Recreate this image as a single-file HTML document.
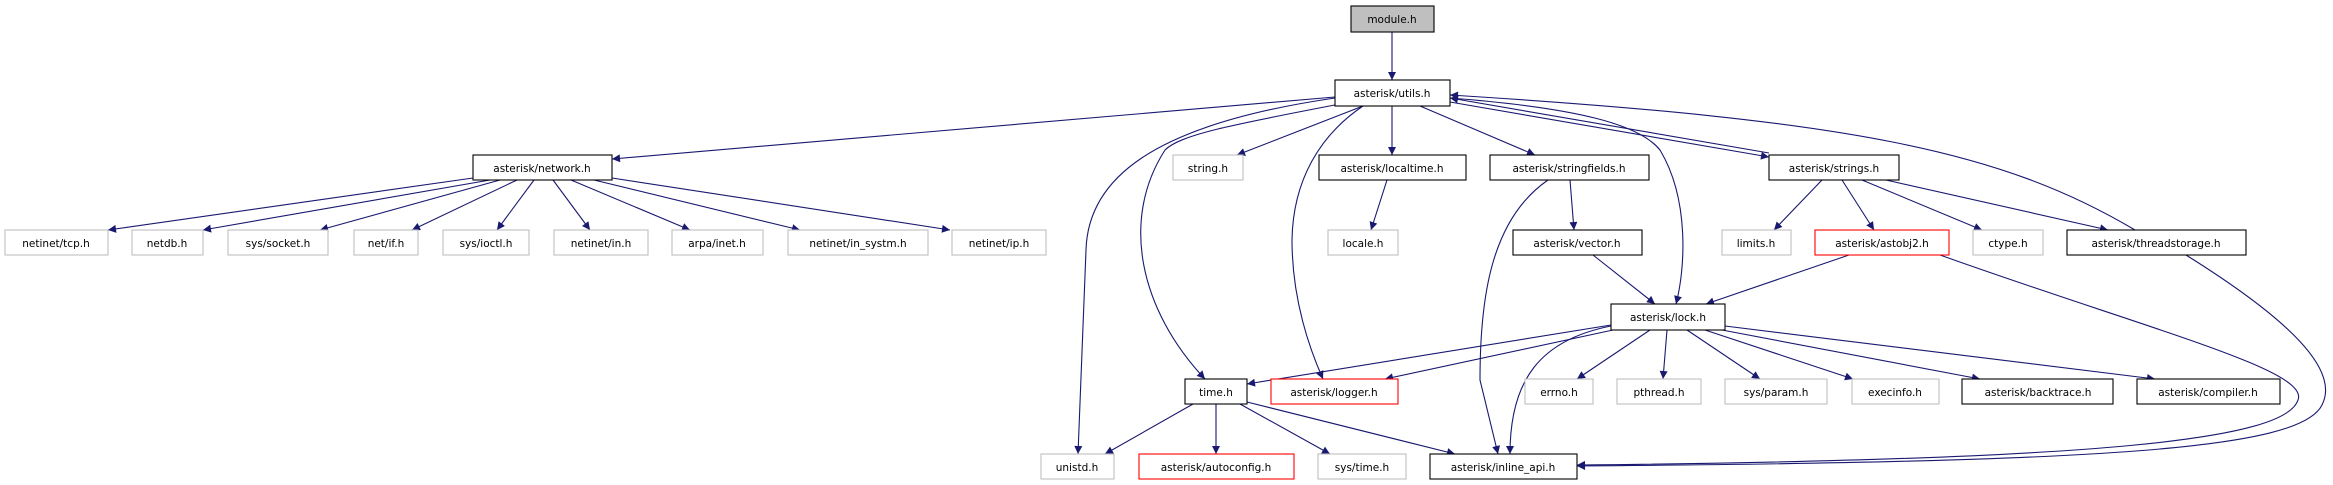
<!DOCTYPE html>
<html><head><meta charset="utf-8"><style>
html,body{margin:0;padding:0;background:#fff;}
svg{display:block;}
text{font-family:"DejaVu Sans","Liberation Sans",sans-serif;font-size:10.5px;fill:#000;text-anchor:middle;}
.e{fill:none;stroke:#191970;stroke-width:1.1;}
</style></head><body>
<svg width="2333" height="485" viewBox="0 0 2333 485" xmlns="http://www.w3.org/2000/svg">
<defs><marker id="a" viewBox="0 0 10 10" refX="10" refY="5" markerWidth="10" markerHeight="8" markerUnits="userSpaceOnUse" orient="auto"><path d="M0,0 L10,5 L0,10 z" fill="#191970"/></marker></defs>
<g class="e" marker-end="url(#a)">
<path d="M1392,32 L1392,80"/>
<path d="M1335,97 L612,159"/>
<path d="M473,178 L108,230"/>
<path d="M490,180 L203,230"/>
<path d="M500,180 L320,230"/>
<path d="M517,180 L412,230"/>
<path d="M534,180 L497,230"/>
<path d="M553,180 L590,230"/>
<path d="M571,180 L690,230"/>
<path d="M594,180 L800,230"/>
<path d="M612,178 L950,230"/>
<path d="M1363,106 L1237,155"/>
<path d="M1392,106 L1392,155"/>
<path d="M1420,106 L1535,155"/>
<path d="M1450,102 L1769,157"/>
<path d="M1769,153 L1450,98"/>
<path d="M1335,98 C1150,125 1088,180 1086,250 L1078,454"/>
<path d="M1340,104 C1230,125 1180,135 1165,150 C1120,220 1140,310 1205,379"/>
<path d="M1363,106 C1320,135 1293,180 1292,240 C1292,300 1310,350 1323,379"/>
<path d="M1450,98 C1580,108 1640,125 1660,150 C1690,200 1685,270 1676,304"/>
<path d="M2135,230 C2000,150 1850,120 1450,95"/>
<path d="M1387,180 L1371,230"/>
<path d="M1570,180 L1574,230"/>
<path d="M1548,180 C1490,220 1480,300 1480,380 L1498,454"/>
<path d="M1593,255 L1655,304"/>
<path d="M1822,180 L1774,230"/>
<path d="M1842,180 L1874,230"/>
<path d="M1862,180 L1982,230"/>
<path d="M1886,180 L2108,230"/>
<path d="M1849,255 L1706,304"/>
<path d="M1940,255 C2150,330 2310,370 2298,400 C2285,440 2100,460 1577,465"/>
<path d="M2186,255 C2290,320 2340,370 2322,405 C2300,450 2100,462 1577,466"/>
<path d="M1611,325 L1247,384"/>
<path d="M1613,330 L1385,379"/>
<path d="M1611,326 C1540,340 1510,380 1510,454"/>
<path d="M1650,330 L1577,379"/>
<path d="M1667,330 L1663,379"/>
<path d="M1687,330 L1760,379"/>
<path d="M1705,330 L1853,379"/>
<path d="M1722,330 L1980,379"/>
<path d="M1725,326 L2155,379"/>
<path d="M1193,404 L1105,454"/>
<path d="M1216,404 L1216,454"/>
<path d="M1240,404 L1330,454"/>
<path d="M1247,402 L1455,454"/>
</g>
<g stroke-width="1.1">
<rect x="1351" y="6" width="83" height="26" fill="#bfbfbf" stroke="#000"/><text x="1392" y="23">module.h</text>
<rect x="1335" y="80" width="115" height="26" fill="#fff" stroke="#000"/><text x="1392" y="97">asterisk/utils.h</text>
<rect x="473" y="155" width="139" height="25" fill="#fff" stroke="#000"/><text x="542" y="172">asterisk/network.h</text>
<rect x="1173" y="155" width="70" height="25" fill="#fff" stroke="#bfbfbf"/><text x="1208" y="172">string.h</text>
<rect x="1319" y="155" width="147" height="25" fill="#fff" stroke="#000"/><text x="1392" y="172">asterisk/localtime.h</text>
<rect x="1490" y="155" width="159" height="25" fill="#fff" stroke="#000"/><text x="1569" y="172">asterisk/stringfields.h</text>
<rect x="1769" y="155" width="130" height="25" fill="#fff" stroke="#000"/><text x="1834" y="172">asterisk/strings.h</text>
<rect x="5" y="230" width="103" height="25" fill="#fff" stroke="#bfbfbf"/><text x="56" y="247">netinet/tcp.h</text>
<rect x="132" y="230" width="71" height="25" fill="#fff" stroke="#bfbfbf"/><text x="167" y="247">netdb.h</text>
<rect x="228" y="230" width="100" height="25" fill="#fff" stroke="#bfbfbf"/><text x="278" y="247">sys/socket.h</text>
<rect x="354" y="230" width="64" height="25" fill="#fff" stroke="#bfbfbf"/><text x="386" y="247">net/if.h</text>
<rect x="443" y="230" width="86" height="25" fill="#fff" stroke="#bfbfbf"/><text x="486" y="247">sys/ioctl.h</text>
<rect x="554" y="230" width="94" height="25" fill="#fff" stroke="#bfbfbf"/><text x="601" y="247">netinet/in.h</text>
<rect x="672" y="230" width="91" height="25" fill="#fff" stroke="#bfbfbf"/><text x="717" y="247">arpa/inet.h</text>
<rect x="788" y="230" width="140" height="25" fill="#fff" stroke="#bfbfbf"/><text x="858" y="247">netinet/in_systm.h</text>
<rect x="952" y="230" width="94" height="25" fill="#fff" stroke="#bfbfbf"/><text x="999" y="247">netinet/ip.h</text>
<rect x="1328" y="230" width="70" height="25" fill="#fff" stroke="#bfbfbf"/><text x="1363" y="247">locale.h</text>
<rect x="1513" y="230" width="129" height="25" fill="#fff" stroke="#000"/><text x="1577" y="247">asterisk/vector.h</text>
<rect x="1722" y="230" width="69" height="25" fill="#fff" stroke="#bfbfbf"/><text x="1756" y="247">limits.h</text>
<rect x="1815" y="230" width="134" height="25" fill="#fff" stroke="#f00"/><text x="1882" y="247">asterisk/astobj2.h</text>
<rect x="1973" y="230" width="70" height="25" fill="#fff" stroke="#bfbfbf"/><text x="2008" y="247">ctype.h</text>
<rect x="2067" y="230" width="179" height="25" fill="#fff" stroke="#000"/><text x="2156" y="247">asterisk/threadstorage.h</text>
<rect x="1611" y="304" width="114" height="26" fill="#fff" stroke="#000"/><text x="1668" y="321">asterisk/lock.h</text>
<rect x="1185" y="379" width="62" height="25" fill="#fff" stroke="#000"/><text x="1216" y="396">time.h</text>
<rect x="1271" y="379" width="127" height="25" fill="#fff" stroke="#f00"/><text x="1334" y="396">asterisk/logger.h</text>
<rect x="1525" y="379" width="68" height="25" fill="#fff" stroke="#bfbfbf"/><text x="1559" y="396">errno.h</text>
<rect x="1617" y="379" width="84" height="25" fill="#fff" stroke="#bfbfbf"/><text x="1659" y="396">pthread.h</text>
<rect x="1725" y="379" width="102" height="25" fill="#fff" stroke="#bfbfbf"/><text x="1776" y="396">sys/param.h</text>
<rect x="1852" y="379" width="87" height="25" fill="#fff" stroke="#bfbfbf"/><text x="1895" y="396">execinfo.h</text>
<rect x="1962" y="379" width="151" height="25" fill="#fff" stroke="#000"/><text x="2038" y="396">asterisk/backtrace.h</text>
<rect x="2137" y="379" width="143" height="25" fill="#fff" stroke="#000"/><text x="2208" y="396">asterisk/compiler.h</text>
<rect x="1041" y="454" width="73" height="25" fill="#fff" stroke="#bfbfbf"/><text x="1077" y="471">unistd.h</text>
<rect x="1139" y="454" width="155" height="25" fill="#fff" stroke="#f00"/><text x="1216" y="471">asterisk/autoconfig.h</text>
<rect x="1318" y="454" width="88" height="25" fill="#fff" stroke="#bfbfbf"/><text x="1362" y="471">sys/time.h</text>
<rect x="1430" y="454" width="147" height="25" fill="#fff" stroke="#000"/><text x="1503" y="471">asterisk/inline_api.h</text>
</g>
</svg>
</body></html>
